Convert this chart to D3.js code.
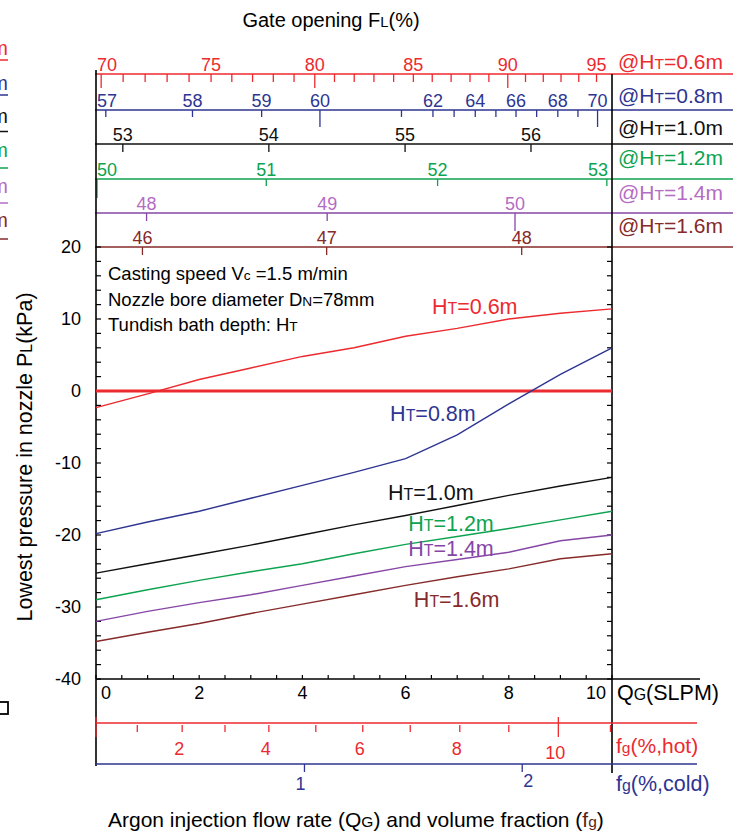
<!DOCTYPE html>
<html><head><meta charset="utf-8">
<script src="https://cdn.jsdelivr.net/npm/d3@7/dist/d3.min.js"></script>
<style>
body{margin:0;background:#fff}
svg{display:block}
text{font-family:"Liberation Sans",Arial,Helvetica,sans-serif}
</style>
</head><body>
<svg id="chart" width="737" height="834"></svg>
<script>
// ---------------- data ----------------
const flowRates = [0,1,2,3,4,5,6,7,8,9,10];                 // Q_G (SLPM)
const depthNames = ["0.6","0.8","1.0","1.2","1.4","1.6"];  // H_T (m)
const pressure06 = [-2.3,-0.4,1.6,3.2,4.8,6.0,7.6,8.7,10.0,10.8,11.4];
const pressure08 = [-19.8,-18.2,-16.7,-14.9,-13.1,-11.3,-9.4,-6.1,-1.8,2.3,6.0];
const pressure10 = [-25.3,-24.0,-22.7,-21.4,-20.0,-18.6,-17.3,-15.9,-14.5,-13.2,-12.0];
const pressure12 = [-29.0,-27.6,-26.3,-25.1,-24.0,-22.6,-21.3,-20.2,-19.1,-17.9,-16.7];
const pressure14 = [-32.0,-30.6,-29.4,-28.3,-27.0,-25.7,-24.4,-23.4,-22.4,-20.8,-20.0];
const pressure16 = [-34.8,-33.5,-32.3,-30.9,-29.6,-28.3,-27.0,-25.8,-24.7,-23.3,-22.6];

const yTickLabels = [-40,-30,-20,-10,0,10,20];
const qTickLabels = [0,2,4,6,8,10];

// gate opening F_L (%) tick values and the flow rate they correspond to
const gate06Values = [70,75,80,85,90,95];
const gate06Flow   = [0.10,2.23,4.24,6.15,7.98,9.70];
const gate06Ticks  = [70,71,72,73,74,75,76,77,78,79,80,81,82,83,84,85,86,87,88,89,90,91,92,93,94,95];
const gate06Labels = [70,75,80,85,90,95];
const gate06Long   = [70,80,90];

const gate08Values = [57,58,59,60,61,62,63,64,65,66,67,68,69,70];
const gate08Flow   = [0.19,1.87,3.21,4.34,5.92,6.53,6.94,7.35,7.75,8.14,8.54,8.95,9.34,9.72];
const gate08Labels = [57,58,59,60,62,64,66,68,70];
const gate08Long   = [60,70];

const gate10Values = [53,54,55,56];
const gate10Flow   = [0.52,3.35,5.99,8.43];

const gate12Values = [50,51,52,53];
const gate12Flow   = [0.02,3.30,6.62,9.90];
const gate12Long   = [50];

const gate14Values = [48,49,50];
const gate14Flow   = [0.98,4.48,8.12];
const gate14Long   = [50];

const gate16Values = [46,47,48];
const gate16Flow   = [0.90,4.47,8.25];

// volume fraction f_g (%) ticks and their flow rate
const fgHotValues = [0,1,2,3,4,5,6,7,8,9,10,11];
const fgHotFlow   = [0,0.80,1.67,2.50,3.35,4.26,5.17,6.09,7.05,8.00,8.96,9.97];
const fgHotLabels = [2,4,6,8,10];
const fgHotLong   = [0,10];
const fgColdValues = [1,2];
const fgColdFlow   = [4.04,8.26];

// ---------------- drawing ----------------
const C = {red:"#ec2a2f", blue:"#2e3592", black:"#111", green:"#0da34f",
           purple:"#8646a6", purpleLt:"#b46cc4", brown:"#862a2a"};
const svg = d3.select("#chart");
const L = 96, R = 612, T = 247, B = 679;
const x = d3.scaleLinear().domain([0,10]).range([L,R]);
const y = d3.scaleLinear().domain([-40,20]).range([B,T]);

// rich text: {..} = small caps part
function rich(g, str, size, opts={}){
  const t = g.append("text").attr("x",opts.x||0).attr("y",opts.y||0)
    .attr("font-size",size).attr("fill",opts.fill||"#000")
    .attr("text-anchor",opts.anchor||"start");
  if(opts.transform) t.attr("transform",opts.transform);
  const parts = str.split(/(\{[^}]*\})/).filter(s=>s.length);
  parts.forEach(p=>{
    if(p[0]==="{") t.append("tspan").attr("font-size",size*0.74).text(p.slice(1,-1));
    else t.append("tspan").text(p);
  });
  return t;
}

// left-edge fragments of neighbouring panel
const fragColors = [C.red,C.blue,C.black,C.green,C.purpleLt,C.brown];
const fragY = [55,90,123,157,193,227];
const fragLineY = [60,95,131.5,168,203,239];
depthNames.forEach((d,i)=>{
  rich(svg,"@H{T}="+d+"m",20,{x:8,y:fragY[i],fill:fragColors[i],anchor:"end"});
  svg.append("line").attr("x1",-5).attr("x2",8).attr("y1",fragLineY[i]).attr("y2",fragLineY[i])
    .attr("stroke",fragColors[i]).attr("stroke-width",1.5);
});
svg.append("rect").attr("x",-1).attr("y",702).attr("width",9).attr("height",12)
  .attr("fill","none").attr("stroke","#000").attr("stroke-width",1.8);

// title
rich(svg,"Gate opening F{L}(%)",20,{x:331,y:27,anchor:"middle"});

// top gate opening axes
function gateAxis(values, flows, ticks, labels, longs, color, lineY, shortLen, longLen, labelColor, depth, depthY){
  const s = d3.scaleLinear().domain(values).range(flows);
  const g = svg.append("g");
  g.append("line").attr("x1",L-1).attr("x2",733).attr("y1",lineY).attr("y2",lineY)
    .attr("stroke",color).attr("stroke-width",1.5);
  g.selectAll(".tk").data(ticks).join("line")
    .attr("x1",d=>x(s(d))).attr("x2",d=>x(s(d)))
    .attr("y1",lineY).attr("y2",d=>lineY+(longs.includes(d)?longLen:shortLen))
    .attr("stroke",color).attr("stroke-width",1.3);
  g.selectAll(".lb").data(labels).join("text")
    .attr("x",d=>Math.max(L+11,Math.min(R-14,x(s(d)))))
    .attr("y",lineY-3).attr("text-anchor","middle")
    .attr("font-size",18).attr("fill",labelColor).text(d=>d);
  rich(g,"@H{T}="+depth+"m",21,{x:618,y:depthY,fill:labelColor});
}
gateAxis(gate06Values,gate06Flow,gate06Ticks,gate06Labels,gate06Long,C.red,74,8,14,C.red,"0.6",69);
gateAxis(gate08Values,gate08Flow,gate08Values,gate08Labels,gate08Long,C.blue,110,7,17,C.blue,"0.8",103);
gateAxis(gate10Values,gate10Flow,gate10Values,gate10Values,[],C.black,144,8,8,C.black,"1.0",135);
gateAxis(gate12Values,gate12Flow,gate12Values,gate12Values,gate12Long,C.green,179,7,19,C.green,"1.2",165);
gateAxis(gate14Values,gate14Flow,gate14Values,gate14Values,gate14Long,C.purple,213,8,18,C.purpleLt,"1.4",200);
gateAxis(gate16Values,gate16Flow,gate16Values,gate16Values,[],C.brown,247,8,8,C.brown,"1.6",233);

// frame verticals
svg.append("line").attr("x1",L).attr("x2",L).attr("y1",70).attr("y2",766).attr("stroke","#000").attr("stroke-width",1.6);
svg.append("line").attr("x1",R).attr("x2",R).attr("y1",74).attr("y2",773).attr("stroke","#000").attr("stroke-width",1.6);
// Q axis line
svg.append("line").attr("x1",L).attr("x2",700).attr("y1",B).attr("y2",B).attr("stroke","#000").attr("stroke-width",1.6);

// y ticks (left & right, inward)
const yMinor = d3.range(-40,20.01,2);
svg.selectAll(".yl").data(yMinor).join("line")
  .attr("x1",L).attr("x2",L+5).attr("y1",d=>y(d)).attr("y2",d=>y(d)).attr("stroke","#000").attr("stroke-width",1.2);
svg.selectAll(".yr").data(yMinor).join("line")
  .attr("x1",R).attr("x2",R-5).attr("y1",d=>y(d)).attr("y2",d=>y(d)).attr("stroke","#000").attr("stroke-width",1.2);
svg.selectAll(".ylab").data(yTickLabels).join("text")
  .attr("x",L-15).attr("y",d=>y(d)+6).attr("text-anchor","end").attr("font-size",18).text(d=>d);

// x ticks (inward)
const xMinor = d3.range(0,10.01,0.5);
svg.selectAll(".xt").data(xMinor).join("line")
  .attr("x1",d=>x(d)).attr("x2",d=>x(d)).attr("y1",B).attr("y2",B-4).attr("stroke","#000").attr("stroke-width",1.2);
svg.selectAll(".xlab").data(qTickLabels).join("text")
  .attr("x",d=>Math.max(L+10,Math.min(R-16,x(d)))).attr("y",B+20).attr("text-anchor","middle")
  .attr("font-size",18).text(d=>d);
rich(svg,"Q{G}(SLPM)",21.5,{x:617,y:700});

// zero line
svg.append("line").attr("x1",L).attr("x2",R).attr("y1",y(0)).attr("y2",y(0))
  .attr("stroke",C.red).attr("stroke-width",3.2);

// series
const series = [
  {d:depthNames[0],v:pressure06,c:C.red},
  {d:depthNames[1],v:pressure08,c:C.blue},
  {d:depthNames[2],v:pressure10,c:C.black},
  {d:depthNames[3],v:pressure12,c:C.green},
  {d:depthNames[4],v:pressure14,c:C.purple},
  {d:depthNames[5],v:pressure16,c:C.brown}
];
const line = d3.line().x((d,i)=>x(flowRates[i])).y(d=>y(d));
svg.selectAll(".ser").data(series).join("path")
  .attr("d",s=>line(s.v)).attr("fill","none").attr("stroke",s=>s.c).attr("stroke-width",1.4);

// series labels (placed in data coordinates)
const labPos = [[6.51,10.65],[5.70,-4.2],[5.66,-15.2],[6.05,-19.5],[6.05,-22.95],[6.16,-30.0]];
series.forEach((s,i)=>{
  rich(svg,"H{T}="+s.d+"m",21.5,{x:x(labPos[i][0]),y:y(labPos[i][1]),fill:s.c});
});

// annotations
rich(svg,"Casting speed V{c} =1.5 m/min",18.5,{x:108,y:280});
rich(svg,"Nozzle bore diameter D{N}=78mm",18.5,{x:108,y:306});
rich(svg,"Tundish bath depth: H{T}",18.5,{x:108,y:331});

// y title
rich(svg,"Lowest pressure in nozzle P{L}(kPa)",21.5,{x:0,y:0,anchor:"middle",transform:"translate(32,457) rotate(-90)"});

// bottom hot fg axis
const hot = d3.scaleLinear().domain(fgHotValues).range(fgHotFlow);
const hotY = 723;
svg.append("line").attr("x1",L).attr("x2",697).attr("y1",hotY).attr("y2",hotY).attr("stroke",C.red).attr("stroke-width",1.5);
svg.selectAll(".ht").data(fgHotValues).join("line")
  .attr("x1",d=>x(hot(d))).attr("x2",d=>x(hot(d)))
  .attr("y1",d=>fgHotLong.includes(d)?hotY-6:hotY+2)
  .attr("y2",d=>fgHotLong.includes(d)?hotY+14:hotY+9)
  .attr("stroke",C.red).attr("stroke-width",1.3);
svg.selectAll(".hl").data(fgHotLabels).join("text")
  .attr("x",d=>x(hot(d))-3).attr("y",d=>d>=10?759:755).attr("text-anchor","middle")
  .attr("font-size",18).attr("fill",C.red).text(d=>d);
rich(svg,"f{g}(%,hot)",21,{x:616,y:753,fill:C.red});

// bottom cold fg axis
const cold = d3.scaleLinear().domain(fgColdValues).range(fgColdFlow);
const coldY = 764;
svg.append("line").attr("x1",L).attr("x2",697).attr("y1",coldY).attr("y2",coldY).attr("stroke",C.blue).attr("stroke-width",1.5);
svg.selectAll(".ct").data(fgColdValues).join("line")
  .attr("x1",d=>x(cold(d))).attr("x2",d=>x(cold(d))).attr("y1",coldY).attr("y2",coldY+8)
  .attr("stroke",C.blue).attr("stroke-width",1.3);
svg.selectAll(".cl").data(fgColdValues).join("text")
  .attr("x",d=>x(cold(d))+(d===1?-4:6)).attr("y",d=>d===1?790:787).attr("text-anchor","middle")
  .attr("font-size",18).attr("fill",C.blue).text(d=>d);
rich(svg,"f{g}(%,cold)",21.5,{x:616,y:791,fill:C.blue});

// x title
const xt = rich(svg,"Argon injection flow rate (Q{G}) and volume fraction (",21,{x:108,y:827});
xt.append("tspan").attr("fill","#5a1e14").text("f");
xt.append("tspan").attr("fill","#5a1e14").attr("font-size",21*0.74).text("g");
xt.append("tspan").text(")");
</script>
</body></html>
